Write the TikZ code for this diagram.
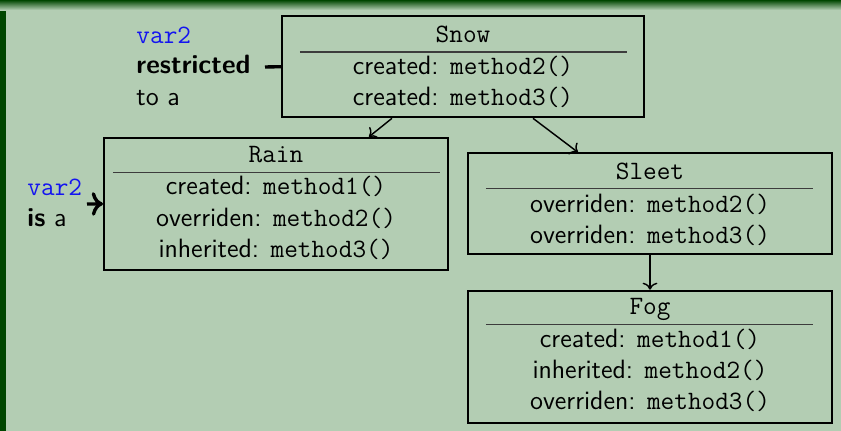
\documentclass[tikz,border=0pt]{standalone}
\usetikzlibrary{arrows.meta}
\newlength\pxu \setlength\pxu{0.415pt}
\definecolor{blockbg}{RGB}{179,205,179}
\definecolor{blockdark}{RGB}{0,70,0}
\definecolor{sepgray}{RGB}{60,60,60}
\definecolor{varblue}{RGB}{20,20,240}
\tikzset{
  classbox/.style={draw=black, line width=0.8pt, rectangle, inner sep=0pt},
  tline/.style={anchor=base, inner sep=0pt, font=\sffamily\fontsize{11}{13}\selectfont},
  lbl/.style={anchor=base west, inner sep=0pt, font=\sffamily\fontsize{11}{13}\selectfont},
  sepline/.style={line width=0.45pt, draw=sepgray},
  conn/.style={->, line width=0.6pt},
  thickconn/.style={->, line width=1.4pt},
  thickline/.style={line width=1.4pt},
}
\newcommand\vartwo{\textcolor{varblue}{\texttt{var2}}}
\begin{document}
\begin{tikzpicture}[x=0.415pt, y=-0.415pt]
\useasboundingbox (0,0) rectangle (841,431);
\fill[blockbg] (0,0) rectangle (841,431);
\shade[top color=blockdark, bottom color=blockbg] (0,0) rectangle (841,10);
\fill[blockdark] (0,11) rectangle (6,431);

% class boxes
\node[classbox, minimum width=362\pxu, minimum height=101.3\pxu] (snow) at (463,66.7) {};
\node[classbox, minimum width=344\pxu, minimum height=132.3\pxu] (rain) at (276,203.9) {};
\node[classbox, minimum width=363.4\pxu, minimum height=101\pxu] (sleet) at (650,203.8) {};
\node[classbox, minimum width=363.4\pxu, minimum height=132.6\pxu] (fog) at (650,357) {};

% separators
\draw[sepline] (300,52) -- (627,52);
\draw[sepline] (113,172.7) -- (440,172.7);
\draw[sepline] (486,188.3) -- (813,188.3);
\draw[sepline] (486,324.3) -- (813,324.3);

% Snow
\node[tline] (snowt) at (463,43) {\texttt{Snow}};
\node[tline] (snowa) at (463,75) {created: \texttt{method2()}};
\node[tline] (snowb) at (463,106) {created: \texttt{method3()}};
% Rain
\node[tline] (raint) at (276,162.7) {\texttt{Rain}};
\node[tline] (raina) at (276,195) {created: \texttt{method1()}};
\node[tline] (rainb) at (276,226.5) {overriden: \texttt{method2()}};
\node[tline] (rainc) at (276,258) {inherited: \texttt{method3()}};
% Sleet
\node[tline] (sleett) at (650,179.3) {\texttt{Sleet}};
\node[tline] (sleeta) at (650,212.7) {overriden: \texttt{method2()}};
\node[tline] (sleetb) at (650,243.5) {overriden: \texttt{method3()}};
% Fog
\node[tline] (fogt) at (650,315) {\texttt{Fog}};
\node[tline] (foga) at (650,348) {created: \texttt{method1()}};
\node[tline] (fogb) at (650,379) {inherited: \texttt{method2()}};
\node[tline] (fogc) at (650,410) {overriden: \texttt{method3()}};

% labels
\node[lbl] (topa) at (136,44) {\vartwo};
\node[lbl] (topb) at (136,74) {\bfseries restricted};
\node[lbl] (topc) at (136,106) {to a};
\node[lbl] (lefta) at (27,196) {\vartwo};
\node[lbl] (leftb) at (27,227) {\textbf{is} a};

% connectors
\coordinate (restrend) at (265,67);
\draw[thickline] (restrend) -- (snow.west);
\coordinate (isaend) at (87,204);
\draw[thickconn] (isaend) -- (rain.west);
\draw[conn] ([xshift=-71\pxu]snow.south) -- ([xshift=93\pxu]rain.north);
\draw[conn] ([xshift=70\pxu]snow.south) -- ([xshift=-72\pxu]sleet.north);
\draw[conn] (sleet.south) -- (fog.north);
\end{tikzpicture}
\end{document}
